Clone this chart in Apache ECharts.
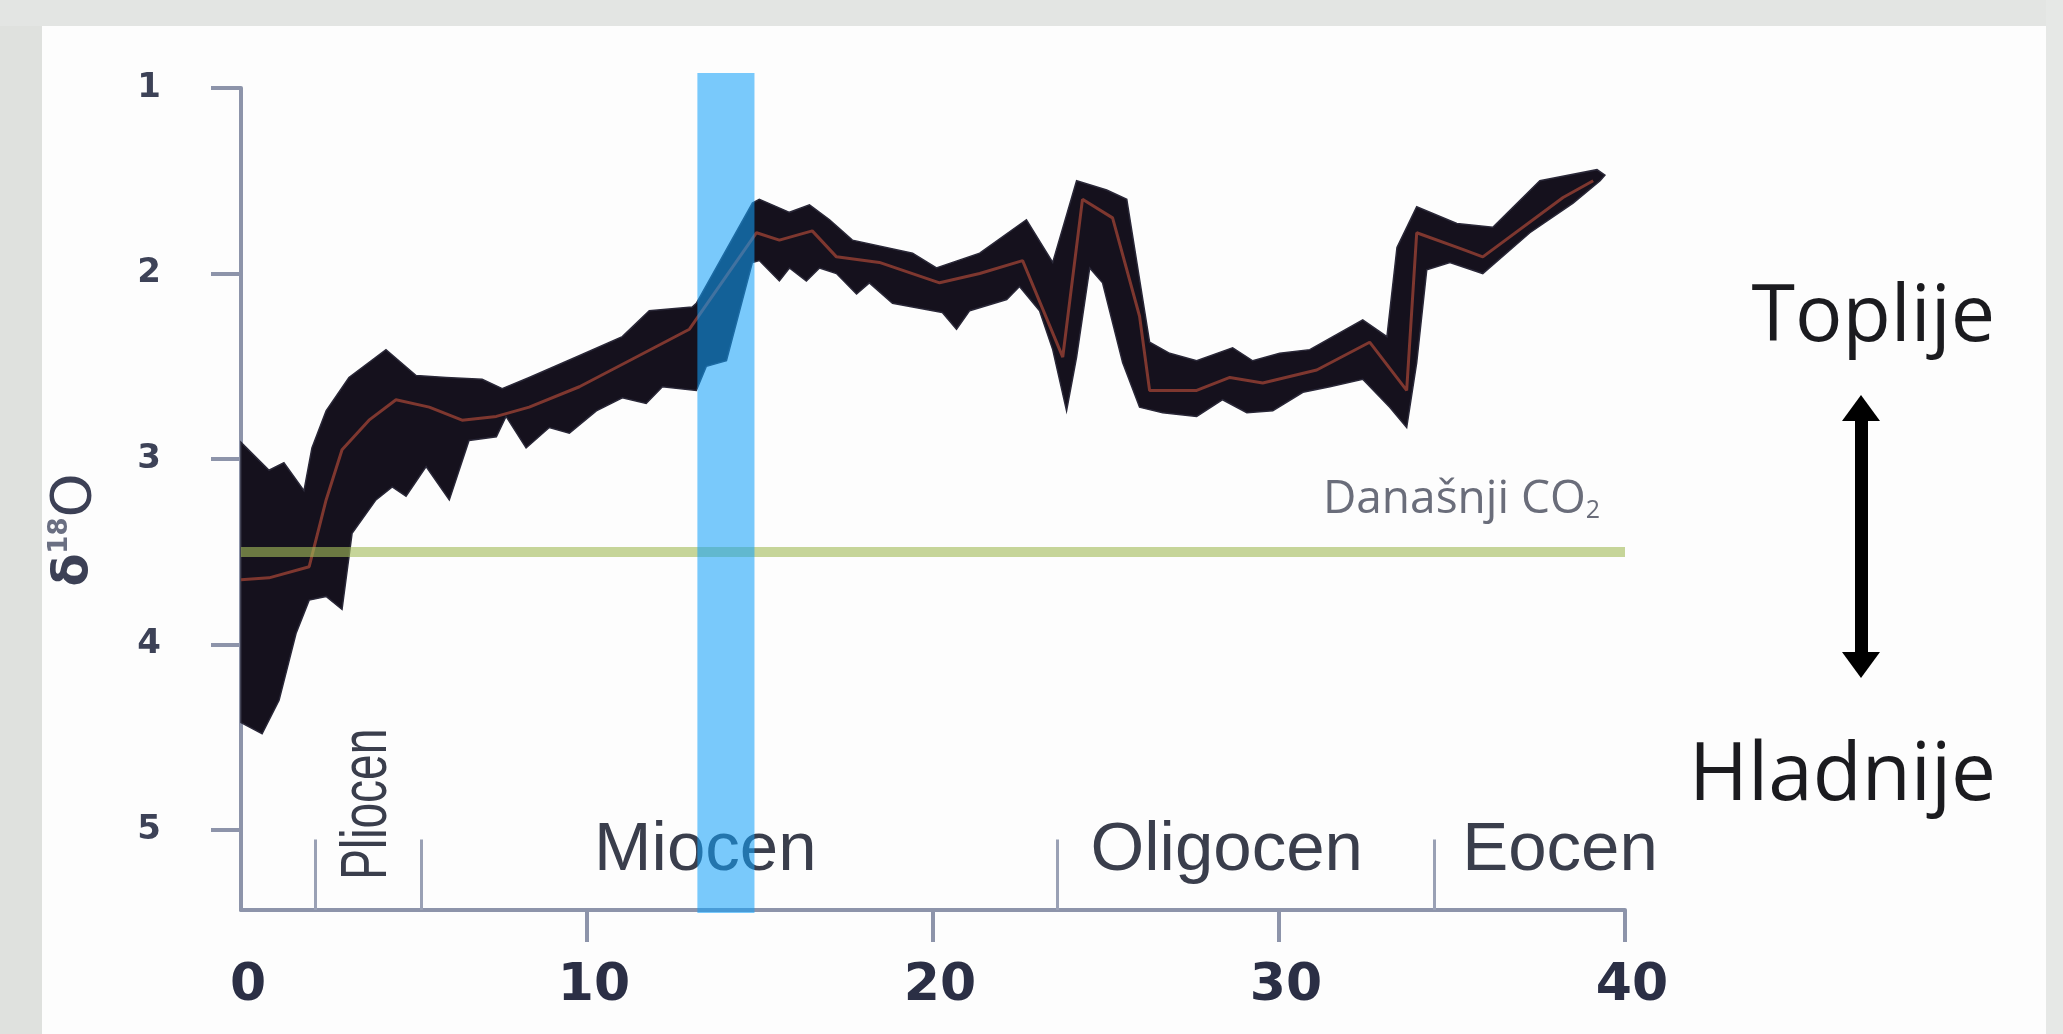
<!DOCTYPE html>
<html>
<head>
<meta charset="utf-8">
<title>d18O kroz kenozoik</title>
<script src="https://cdn.jsdelivr.net/npm/echarts@6/dist/echarts.min.js"></script>
<style>
html, body { margin: 0; padding: 0; background: #fdfdfd; }
#main { width: 2063px; height: 1034px; }
</style>
</head>
<body>
<div id="main"></div>
<script>
// starost (mil. god.) i d18O - gornji i donji rub pojasa, te srednja krivulja
var topAge = [0, 0.81, 1.24, 1.82, 2.05, 2.46, 3.12, 4.19, 5.06, 5.93, 6.97, 7.55, 8.33, 9.69, 11.02, 11.80, 13.04, 13.16, 14.78, 14.98,
  15.85, 16.43, 17.01, 17.67, 19.41, 20.10, 21.35, 22.70, 23.46, 24.15, 25.02, 25.60, 26.26, 26.84, 27.62, 28.66, 29.24, 30.02, 30.89, 32.42,
  33.12, 33.41, 33.98, 35.14, 36.18, 37.54, 39.19, 39.42];
var topVal = [2.91, 3.06, 3.02, 3.17, 2.94, 2.74, 2.56, 2.41, 2.55, 2.56, 2.57, 2.62, 2.56, 2.45, 2.34, 2.20, 2.18, 2.16, 1.62, 1.60,
  1.67, 1.63, 1.71, 1.82, 1.89, 1.97, 1.89, 1.71, 1.94, 1.50, 1.55, 1.60, 2.37, 2.43, 2.47, 2.40, 2.47, 2.43, 2.41, 2.25,
  2.34, 1.86, 1.64, 1.73, 1.75, 1.50, 1.44, 1.47];
var botAge = [0, 0.61, 1.10, 1.59, 1.97, 2.46, 2.92, 3.21, 3.90, 4.37, 4.77, 5.35, 6.02, 6.59, 7.38, 7.66, 8.24, 8.91, 9.49, 10.27,
  11.02, 11.71, 12.18, 13.16, 13.45, 14.03, 14.78, 14.98, 15.56, 15.85, 16.34, 16.72, 17.21, 17.79, 18.16, 18.83, 19.41, 20.27, 20.68, 21.06,
  22.13, 22.50, 23.08, 23.46, 23.86, 24.15, 24.53, 24.90, 25.48, 25.97, 26.64, 27.62, 28.37, 29.07, 29.82, 30.69, 31.47, 32.42, 33.20, 33.69,
  33.98, 34.27, 34.94, 35.89, 37.25, 38.50, 39.28];
var botVal = [4.42, 4.48, 4.30, 3.94, 3.76, 3.74, 3.81, 3.40, 3.22, 3.15, 3.20, 3.04, 3.22, 2.90, 2.88, 2.77, 2.94, 2.83, 2.86, 2.74,
  2.67, 2.70, 2.61, 2.63, 2.50, 2.47, 1.94, 1.93, 2.04, 1.97, 2.04, 1.97, 2.00, 2.11, 2.05, 2.16, 2.18, 2.21, 2.30, 2.20,
  2.14, 2.07, 2.20, 2.41, 2.74, 2.45, 1.97, 2.05, 2.48, 2.72, 2.75, 2.77, 2.68, 2.75, 2.74, 2.64, 2.61, 2.57, 2.72, 2.83,
  2.48, 1.98, 1.94, 2.00, 1.78, 1.62, 1.50];
var midAge = [0, 0.81, 1.97, 2.46, 2.92, 3.70, 4.48, 5.44, 6.39, 7.38, 8.33, 9.78, 11.22, 12.96, 14.90, 15.56, 16.51, 17.21, 18.45, 20.19,
  21.35, 22.59, 23.75, 24.32, 25.19, 25.97, 26.26, 27.62, 28.58, 29.53, 31.09, 32.62, 33.69, 33.98, 35.31, 35.89, 38.21, 39.08];
var midVal = [3.65, 3.64, 3.58, 3.22, 2.95, 2.79, 2.68, 2.72, 2.79, 2.77, 2.72, 2.61, 2.47, 2.30, 1.78, 1.82, 1.77, 1.91, 1.94, 2.05,
  2.00, 1.93, 2.45, 1.60, 1.70, 2.23, 2.63, 2.63, 2.56, 2.59, 2.52, 2.37, 2.63, 1.78, 1.87, 1.91, 1.59, 1.50];

var co2Level = 3.5;              // danasnji CO2
var warmBand = [13.19, 14.84];   // plavi pojas
var epochNames = ['Pliocen', 'Miocen', 'Oligocen', 'Eocen'];
var epochLabelAge = [3.67, 13.42, 28.49, 38.12];
var epochBounds = [2.15, 5.2, 23.6, 34.5];
var xTicks = [10, 20, 30, 40];
var yTicks = [1, 2, 3, 4, 5];

var Y_MAX = 5.43;
var axisColor = '#8d94aa';

var chart = echarts.init(document.getElementById('main'));

var midData = midAge.map(function (a, i) { return [a, midVal[i]]; });
var epochLabelData = epochLabelAge.map(function (a, i) { return [a, i === 0 ? 4.86 : 5.11]; });

var option = {
  animation: false,
  backgroundColor: '#fdfdfd',
  grid: [
    { left: 241, right: 438, top: 88, bottom: 124, outerBoundsMode: 'none' },
    { left: 241, right: 438, top: 73, bottom: 121, outerBoundsMode: 'none' }
  ],
  xAxis: [{
    type: 'value', min: 0, max: 40, interval: 10,
    axisLine: { onZero: false, lineStyle: { color: axisColor, width: 4 } },
    axisTick: { show: true, length: 32, customValues: xTicks, lineStyle: { color: axisColor, width: 4 } },
    axisLabel: {
      margin: 50, padding: [0, 0, 0, 14],
      fontFamily: 'DejaVu Sans', fontWeight: 'bold', fontSize: 52, color: '#2b2f45'
    },
    splitLine: { show: false }
  }, {
    gridIndex: 1, type: 'value', min: 0, max: 40, show: false
  }],
  yAxis: [{
    type: 'value', inverse: true, min: 1, max: Y_MAX,
    name: '{d|δ}{s|18}{o|O}',
    nameLocation: 'middle', nameRotate: 90, nameGap: 138,
    nameTextStyle: {
      padding: [0, 62, 0, 0],
      rich: {
        d: { fontFamily: 'DejaVu Sans', fontWeight: 'bold', fontSize: 48, color: '#3c4055' },
        s: { fontFamily: 'DejaVu Sans', fontWeight: 'bold', fontSize: 26, color: '#6a6f82', verticalAlign: 'top' },
        o: { fontFamily: 'DejaVu Sans', fontSize: 56, color: '#3c4055' }
      }
    },
    axisLine: { lineStyle: { color: axisColor, width: 4 } },
    axisTick: { show: true, length: 30, customValues: yTicks, lineStyle: { color: axisColor, width: 4 } },
    axisLabel: {
      customValues: yTicks, margin: 80,
      fontFamily: 'DejaVu Sans', fontWeight: 'bold', fontSize: 34, color: '#3d4257'
    },
    splitLine: { show: false }
  }, {
    gridIndex: 1, type: 'value', min: 0, max: 1, show: false
  }],
  graphic: [
    // sivi rubovi slike
    { type: 'rect', left: 0, top: 0, z: -10, shape: { width: 42, height: 1034 }, style: { fill: '#dfe1de' } },
    { type: 'rect', left: 0, top: 0, z: -10, shape: { width: 2063, height: 26 }, style: { fill: '#e3e5e3' } },
    { type: 'rect', left: 2046, top: 0, z: -10, shape: { width: 17, height: 1034 }, style: { fill: '#e6e8e6' } },
    {
      type: 'text', x: 1600, y: 500, z: 20,
      style: {
        text: '{a|Današnji CO}{b|2}', align: 'right', verticalAlign: 'middle',
        rich: {
          a: { fontFamily: 'Open Sans', fontSize: 46, fill: '#6a6d7a' },
          b: { fontFamily: 'Open Sans', fontSize: 25, fill: '#6a6d7a', verticalAlign: 'bottom', padding: [20, 0, 0, 0] }
        }
      }
    },
    {
      type: 'text', x: 1995, y: 318, z: 20,
      style: { text: 'Toplije', align: 'right', verticalAlign: 'middle', fontFamily: 'Open Sans', fontSize: 79, fill: '#1b1b1f' }
    },
    {
      type: 'text', x: 1996, y: 777, z: 20,
      style: { text: 'Hladnije', align: 'right', verticalAlign: 'middle', fontFamily: 'Open Sans', fontSize: 80, fill: '#1b1b1f' }
    },
    {
      type: 'group', z: 20,
      children: [
        { type: 'rect', shape: { x: 1855, y: 415, width: 13, height: 242 }, style: { fill: '#000' } },
        { type: 'polygon', shape: { points: [[1861, 395], [1842, 421], [1880, 421]] }, style: { fill: '#000' } },
        { type: 'polygon', shape: { points: [[1861, 678], [1842, 652], [1880, 652]] }, style: { fill: '#000' } }
      ]
    }
  ],
  series: [
    {
      // pojas nesigurnosti
      type: 'custom',
      name: 'pojas',
      coordinateSystem: 'cartesian2d',
      silent: true,
      z: 2,
      data: [[0, 3]],
      renderItem: function (params, api) {
        var pts = [];
        var i;
        for (i = 0; i < topAge.length; i++) pts.push(api.coord([topAge[i], topVal[i]]));
        for (i = botAge.length - 1; i >= 0; i--) pts.push(api.coord([botAge[i], botVal[i]]));
        return {
          type: 'polygon',
          shape: { points: pts },
          style: { fill: '#15111d', stroke: '#2a2838', lineWidth: 1.5 }
        };
      }
    },
    {
      type: 'line',
      name: 'srednja',
      data: midData,
      showSymbol: false,
      silent: true,
      z: 3,
      lineStyle: { color: '#7e372f', width: 3 },
      markLine: {
        silent: true,
        symbol: 'none',
        label: { show: false },
        lineStyle: { color: 'rgba(164,188,90,0.61)', width: 10, type: 'solid' },
        data: [[{ coord: [0, co2Level] }, { coord: [40, co2Level] }]]
      }
    },
    {
      // granice epoha
      type: 'line',
      name: 'epohe',
      data: [],
      silent: true,
      z: 1,
      markLine: {
        silent: true,
        symbol: 'none',
        label: { show: false },
        lineStyle: { color: '#9aa1b5', width: 3, type: 'solid' },
        data: epochBounds.map(function (b) { return [{ coord: [b, 5.05] }, { coord: [b, Y_MAX] }]; })
      }
    },
    {
      type: 'custom',
      name: 'nazivi',
      coordinateSystem: 'cartesian2d',
      silent: true,
      z: 1,
      data: epochLabelData,
      renderItem: function (params, api) {
        var i = params.dataIndex;
        var p = api.coord([api.value(0), api.value(1)]);
        var vertical = i === 0;
        return {
          type: 'text',
          x: p[0], y: p[1],
          rotation: vertical ? Math.PI / 2 : 0,
          scaleX: vertical ? 0.72 : 1,
          style: {
            text: epochNames[i], x: 0, y: 0,
            align: 'center', verticalAlign: 'middle',
            fontFamily: 'Liberation Sans', fontSize: vertical ? 64 : 69, fill: '#3a3e4c'
          }
        };
      }
    },
    {
      // plavi pojas preko krivulje
      type: 'custom',
      name: 'plavi',
      coordinateSystem: 'cartesian2d',
      xAxisIndex: 1, yAxisIndex: 1,
      silent: true,
      z: 10,
      data: [[warmBand[0], warmBand[1]]],
      renderItem: function (params, api) {
        var p0 = api.coord([api.value(0), 1]);
        var p1 = api.coord([api.value(1), 0]);
        return {
          type: 'rect',
          shape: { x: p0[0], y: p0[1], width: p1[0] - p0[0], height: p1[1] - p0[1] },
          style: { fill: 'rgb(18,160,250)', opacity: 0.56 }
        };
      }
    }
  ]
};

chart.setOption(option);
</script>
</body>
</html>
